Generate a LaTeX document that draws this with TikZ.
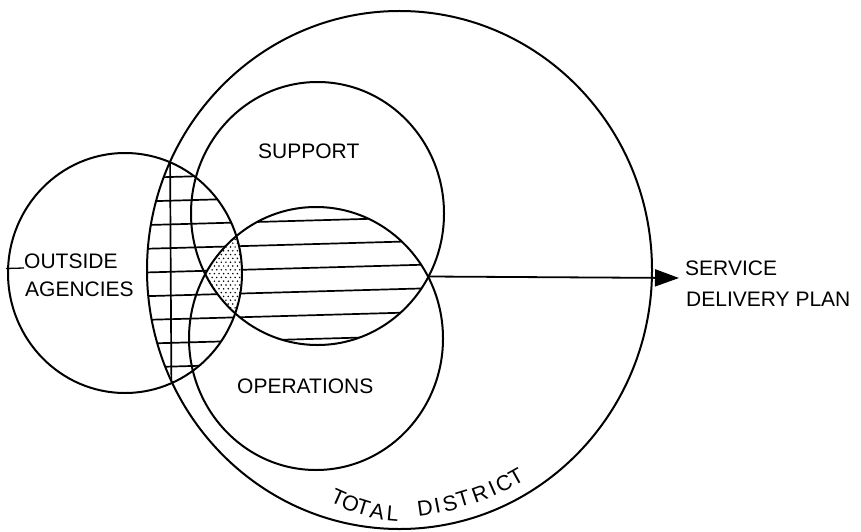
\documentclass[tikz,border=0pt]{standalone}
\usepackage{fontspec}
\newfontfamily\labfont{Liberation Sans}
\usetikzlibrary{arrows.meta}
\begin{document}
\begin{tikzpicture}[x=1pt,y=-1pt,
  outline/.style={line width=2pt},
  hatch/.style={line width=1.7pt},
  lab/.style={font=\labfont\fontsize{21}{25}\selectfont, inner sep=0pt},
  tdl/.style={font=\labfont\fontsize{21.5}{25}\selectfont, inner sep=0pt},
  arr/.style={line width=1.8pt, -{Triangle[length=24pt,width=17pt]}}]
\useasboundingbox (0,0) rectangle (861,532);
\fill[white] (0,0) rectangle (861,532);
% grid hatch in Outside Agencies within Total District
\begin{scope}
  \clip (125,273) ellipse [x radius=117pt, y radius=120pt];
  \clip (399.5,270) ellipse [x radius=252.5pt, y radius=259pt];
  \foreach \k in {0,...,8} {\draw[hatch] (120,{177+23.7*\k+1.4}) -- (470,{177+23.7*\k-8.4});}
  \draw[hatch] (170,150) -- (171.5,400);
\end{scope}
% horizontal hatch in Support/Operations lens
\begin{scope}
  \clip (317.5,213.5) ellipse [x radius=126.5pt, y radius=131.5pt];
  \clip (316,338.5) ellipse [x radius=127pt, y radius=131.5pt];
  \foreach \k in {0,...,8} {\draw[hatch] (120,{177+23.7*\k+1.4}) -- (470,{177+23.7*\k-8.4});}
\end{scope}
% dotted triple overlap
\begin{scope}
  \clip (125,273) ellipse [x radius=117pt, y radius=120pt];
  \clip (317.5,213.5) ellipse [x radius=126.5pt, y radius=131.5pt];
  \clip (316,338.5) ellipse [x radius=127pt, y radius=131.5pt];
  \fill[white] (180,200) rectangle (260,350);
  \foreach \j in {0,...,24} {\foreach \i in {0,...,14} {\fill ({196+4.6*\i+2.3*mod(\j,2)},{228+3.8*\j}) circle[radius=0.85pt];}}
\end{scope}
% outlines
\draw[outline] (399.5,270) ellipse [x radius=252.5pt, y radius=259pt];
\draw[outline] (125,273) ellipse [x radius=117pt, y radius=120pt];
\draw[outline] (317.5,213.5) ellipse [x radius=126.5pt, y radius=131.5pt];
\draw[outline] (316,338.5) ellipse [x radius=127pt, y radius=131.5pt];
% labels
\node[lab, anchor=base west] (sup) at (258,158) {SUPPORT};
\node[lab, anchor=base west] (out) at (24,268) {OUTSIDE};
\node[lab, anchor=base west] (age) at (25,296) {AGENCIES};
\node[lab, anchor=base west] (ope) at (237,393) {OPERATIONS};
\node[lab, anchor=base west] (svc) at (685,275) {SERVICE};
\node[lab, anchor=base west] (dlv) at (686,306) {DELIVERY PLAN};
\coordinate (oaedge) at (6,268.5);
\draw[line width=1.3pt] (oaedge) -- (out.base west);
% arrow
\coordinate (ix) at (428.8,276.5);
\coordinate (tip) at (679,278);
\draw[arr] (ix) -- (tip);
% curved label TOTAL DISTRICT
\foreach \c/\x/\y/\r [count=\n] in {T/338.3/497.7/-24, O/350.7/503.3/-21, T/363.3/507.7/-17, A/377.3/511.7/-11, L/392.7/513.3/-5,
  D/425/508.3/8, I/437.3/505.7/11, S/450/503.3/14, T/463.3/499/17, R/480/494.3/20, I/492.3/489/24, C/504/483.3/27, T/516/476.7/29}
  {\node[tdl, rotate=\r] (td\n) at (\x,\y) {\c};}
\end{tikzpicture}
\end{document}
